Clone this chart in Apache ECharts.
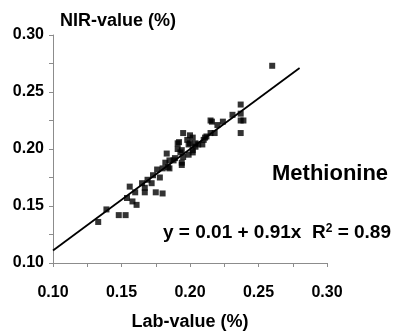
<!DOCTYPE html>
<html>
<head>
<meta charset="utf-8">
<script src="https://cdn.jsdelivr.net/npm/echarts@6/dist/echarts.min.js"></script>
<style>
  html, body { margin: 0; padding: 0; background: #fff; }
  #chart { width: 396px; height: 333px; }
</style>
</head>
<body>
<div id="chart"></div>
<script>
// lab value (x) vs NIR value (y)
const labValues = [
  0.133, 0.139, 0.148, 0.153, 0.154, 0.156, 0.158, 0.161, 0.160, 0.167,
  0.167, 0.165, 0.169, 0.172, 0.175, 0.180, 0.173, 0.178, 0.176, 0.180,
  0.185, 0.182, 0.184, 0.183, 0.185, 0.189, 0.194, 0.195, 0.191, 0.194,
  0.202, 0.191, 0.199, 0.204, 0.195, 0.200, 0.202, 0.198, 0.200, 0.210,
  0.209, 0.212, 0.215, 0.206, 0.204, 0.188, 0.194, 0.199, 0.193, 0.216,
  0.215, 0.220, 0.218, 0.224, 0.231, 0.237, 0.237, 0.239, 0.237, 0.237,
  0.260, 0.192, 0.202, 0.211
];
const nirValues = [
  0.136, 0.147, 0.142, 0.142, 0.157, 0.167, 0.154, 0.151, 0.162, 0.162,
  0.166, 0.170, 0.173, 0.170, 0.162, 0.161, 0.177, 0.175, 0.182, 0.183,
  0.183, 0.188, 0.184, 0.196, 0.190, 0.192, 0.188, 0.193, 0.200, 0.199,
  0.199, 0.205, 0.204, 0.205, 0.214, 0.212, 0.210, 0.208, 0.205, 0.208,
  0.204, 0.211, 0.214, 0.204, 0.202, 0.190, 0.186, 0.195, 0.197, 0.224,
  0.225, 0.221, 0.214, 0.224, 0.230, 0.239, 0.231, 0.225, 0.225, 0.214,
  0.273, 0.206, 0.197, 0.210
];
// fitted line as drawn
const fitX = [0.10, 0.28];
const fitY = [0.111, 0.271];

const xTicks = ["0.10", "0.15", "0.20", "0.25", "0.30"];

const points = labValues.map((x, i) => [x, nirValues[i]]);
const fitLine = fitX.map((x, i) => [x, fitY[i]]);

const font = "'Liberation Sans', Arial, sans-serif";
const axisGray = "#8c8c8c";

const chart = echarts.init(document.getElementById("chart"));
chart.setOption({
  backgroundColor: "#fff",
  animation: false,
  grid: { left: 53, right: 69, top: 35, bottom: 70, outerBoundsMode: "none", containLabel: false },
  xAxis: {
    type: "value",
    min: 0.10,
    max: 0.30,
    interval: 0.05,
    name: "Lab-value (%)",
    nameLocation: "middle",
    nameGap: 50,
    nameTextStyle: { color: "#000", fontFamily: font, fontWeight: "bold", fontSize: 18 },
    axisLine: { show: true, lineStyle: { color: axisGray, width: 1 } },
    axisTick: { show: true, length: 4, lineStyle: { color: axisGray } },
    minorTick: { show: true, splitNumber: 2, length: 4, lineStyle: { color: axisGray } },
    splitLine: { show: false },
    axisLabel: {
      color: "#000", fontFamily: font, fontWeight: "bold", fontSize: 16, margin: 22,
      formatter: (v) => xTicks.find((t) => Math.abs(parseFloat(t) - v) < 1e-6) || ""
    }
  },
  yAxis: {
    type: "value",
    min: 0.10,
    max: 0.30,
    interval: 0.05,
    axisLine: { show: true, lineStyle: { color: axisGray, width: 1 } },
    axisTick: { show: true, length: 4, lineStyle: { color: axisGray } },
    minorTick: { show: true, splitNumber: 2, length: 4, lineStyle: { color: axisGray } },
    splitLine: { show: false },
    axisLabel: {
      color: "#000", fontFamily: font, fontWeight: "bold", fontSize: 16, margin: 9,
      formatter: (v) => v.toFixed(2)
    }
  },
  graphic: [
    {
      type: "text", left: 60, top: 12,
      style: { text: "NIR-value (%)", fill: "#000", font: "bold 18px " + font }
    },
    {
      type: "text", left: 272, top: 163,
      style: { text: "Methionine", fill: "#000", font: "bold 22px " + font }
    },
    {
      type: "text", left: 163, top: 223,
      style: {
        text: "y = 0.01 + 0.91x  R{sup|2} = 0.89",
        fill: "#000", font: "bold 19px " + font,
        rich: { sup: { fontSize: 12, fontWeight: "bold", fontFamily: font, verticalAlign: "top", padding: [0, 0, 7, 0] } }
      }
    }
  ],
  series: [
    {
      type: "line",
      data: fitLine,
      symbol: "none",
      lineStyle: { color: "#000", width: 1.8 },
      z: 2
    },
    {
      type: "scatter",
      data: points,
      symbol: "rect",
      symbolSize: 6,
      itemStyle: { color: "#000" },
      z: 3
    }
  ]
});
</script>
</body>
</html>
